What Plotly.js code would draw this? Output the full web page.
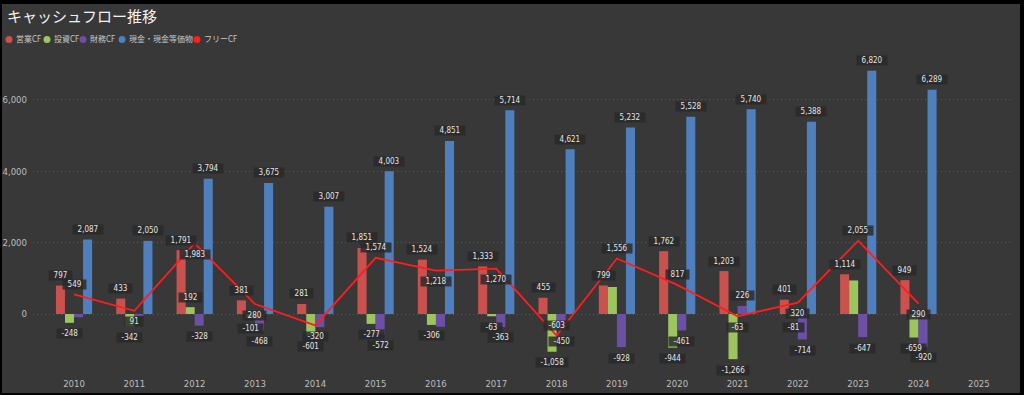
<!DOCTYPE html>
<html>
<head>
<meta charset="utf-8">
<script src="https://cdn.plot.ly/plotly-3.0.1.min.js"></script>
<style>
  html, body { margin:0; padding:0; background:#000; width:1024px; height:395px; overflow:hidden; }
  #chart { position:absolute; left:2px; top:4px; width:1018px; height:389px; }
</style>
</head>
<body>
<div id="chart"></div>
<script>
// ---- data ----
const years = ['2010','2011','2012','2013','2014','2015','2016','2017','2018','2019','2020','2021','2022','2023','2024','2025'];
const opCF   = [797, 433, 1791, 381, 281, 1851, 1524, 1333, 455, 799, 1762, 1203, 401, 1114, 949, null];
const invCF  = [-248, -342, 192, -101, -601, -277, -306, -63, -1058, 757, -944, -1266, -81, 941, -659, null];
const finCF  = [-90, -50, -328, -468, -370, -572, -360, -363, -450, -928, -461, 226, -714, -647, -920, null];
const cash   = [2087, 2050, 3794, 3675, 3007, 4003, 4851, 5714, 4621, 5232, 5528, 5740, 5388, 6820, 6289, null];
const freeCF = [549, 91, 1983, 280, -320, 1574, 1218, 1270, -603, 1556, 817, -63, 320, 2055, 290, null];
// labels that the original chart does not show (hidden by overlap)
const hiddenLabels = ['fin-2010','fin-2011','fin-2014','fin-2016','inv-2019','inv-2023'];
// where the free CF label sits relative to its point
const freeLabelSide = ['up','down','down','down','down','up','down','down','up','up','up','down','down','up','down'];
const seriesNames = ['営業CF','投資CF','財務CF','現金・現金等価物','フリーCF'];
const yTicks = [0, 2000, 4000, 6000];

// ---- style ----
const colors = ['#c9524f', '#9dc55f', '#6c50a4', '#4f80bd', '#ff1e1e'];
const BG = '#383838';
const numFont = 'DejaVu Sans Condensed, Liberation Sans Narrow, Roboto, sans-serif';
const cjkFont = 'DejaVu Sans Condensed, Noto Sans CJK JP, sans-serif';

const Wd = 1018, Hd = 389;
const L = 31, R = 8, T = 51, B = 17;
const W = Wd - L - R, H = Hd - T - B;
const xr = [-0.68, 15.55];
const yr = [-1738, 7261];
const bargap = 0.4;
const pxPerCat = W / (xr[1] - xr[0]);
const barPx = pxPerCat * (1 - bargap) / 4;

const fmt = v => v.toLocaleString('en-US');
const NB = '\u00a0';

const keys = ['op','inv','fin','cash'];
const barSeries = [opCF, invCF, finCF, cash];

const traces = barSeries.map((arr, i) => ({
  type: 'bar', name: seriesNames[i], x: years, y: arr,
  marker: { color: colors[i] }, showlegend: false, hoverinfo: 'skip'
}));
traces.push({
  type: 'scatter', mode: 'lines', name: seriesNames[4], x: years, y: freeCF,
  line: { color: colors[4], width: 1.8 }, showlegend: false, hoverinfo: 'skip', connectgaps: false
});

const annotations = [];
function label(j, y, text, xshift, yshift) {
  annotations.push({
    x: j, y: y, xref: 'x', yref: 'y', text: NB + NB + text + NB + NB, showarrow: false,
    xshift: xshift, yshift: yshift, xanchor: 'center', yanchor: 'middle',
    font: { family: numFont, size: 8, color: '#e6e6e6' },
    bgcolor: 'rgba(40,40,40,0.82)', borderpad: 0
  });
}
barSeries.forEach((arr, i) => {
  const xshift = (i - 1.5) * barPx;
  arr.forEach((v, j) => {
    if (v === null) return;
    if (hiddenLabels.includes(keys[i] + '-' + years[j])) return;
    label(j, v, fmt(v), xshift, v >= 0 ? 10 : -11);
  });
});
freeCF.forEach((v, j) => {
  if (v === null) return;
  label(j, v, fmt(v), 0, freeLabelSide[j] === 'up' ? 10 : -11);
});

// custom legend (circle markers)
const shapes = [];
const legendCx = [9, 47, 83, 122, 197];  // absolute px centres of the dots
const legendY = 39.5;
const toPaperX = px => (px - 2 - L) / W;
const toPaperY = py => (H - (py - 4 - T)) / H;
seriesNames.forEach((n, i) => {
  shapes.push({
    type: 'circle', xref: 'paper', yref: 'paper', xsizemode: 'pixel', ysizemode: 'pixel',
    xanchor: toPaperX(legendCx[i]), yanchor: toPaperY(legendY),
    x0: -3.5, x1: 3.5, y0: -3.5, y1: 3.5,
    fillcolor: colors[i], line: { width: 0 }
  });
  annotations.push({
    xref: 'paper', yref: 'paper', x: toPaperX(legendCx[i] + 4.5), y: toPaperY(legendY),
    xanchor: 'left', yanchor: 'middle', showarrow: false, text: n,
    font: { family: cjkFont, size: 8, color: '#c8c8c8' }
  });
});

const layout = {
  width: Wd, height: Hd,
  paper_bgcolor: BG, plot_bgcolor: BG,
  margin: { l: L, r: R, t: T, b: B, pad: 0 },
  title: {
    text: 'キャッシュフロー推移', xref: 'container', yref: 'container',
    x: 5 / Wd, xanchor: 'left', y: 1 - 13 / Hd, yanchor: 'middle',
    font: { family: 'Noto Sans CJK JP, sans-serif', size: 15, color: '#f2f2f2' }
  },
  barmode: 'group', bargap: bargap, bargroupgap: 0,
  showlegend: false,
  hovermode: false,
  xaxis: {
    type: 'category', categoryorder: 'array', categoryarray: years, range: xr,
    showgrid: false, zeroline: false, showline: false, ticks: '',
    tickfont: { family: numFont, size: 9.5, color: '#bdbdbd' }, fixedrange: true
  },
  yaxis: {
    range: yr, tickvals: yTicks, ticktext: yTicks.map(fmt),
    showgrid: true, gridcolor: '#5a5a5a', griddash: '1px,3px', gridwidth: 1,
    zeroline: false, showline: false, ticks: '', ticklabelstandoff: 5,
    tickfont: { family: numFont, size: 9.5, color: '#bdbdbd' }, fixedrange: true
  },
  annotations: annotations,
  shapes: shapes
};

Plotly.newPlot('chart', traces, layout, { staticPlot: true, displayModeBar: false });
</script>
</body>
</html>
